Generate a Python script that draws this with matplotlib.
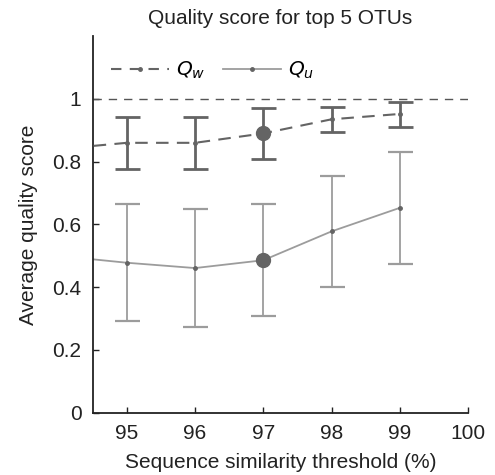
import numpy as np
import matplotlib.pyplot as plt
from matplotlib.lines import Line2D

plt.rcParams['font.family'] = ['Liberation Sans', 'DejaVu Sans']

# data
thresholds = [94, 95, 96, 97, 98, 99]
qw_mean = [0.84, 0.860, 0.860, 0.890, 0.935, 0.952]
qw_low = [np.nan, 0.778, 0.778, 0.808, 0.895, 0.911]
qw_high = [np.nan, 0.943, 0.943, 0.971, 0.975, 0.991]
qu_mean = [0.50, 0.478, 0.461, 0.486, 0.578, 0.653]
qu_low = [np.nan, 0.292, 0.273, 0.307, 0.400, 0.474]
qu_high = [np.nan, 0.665, 0.649, 0.665, 0.754, 0.830]
best = 97

dark = '#646464'
light = '#9c9c9c'
ink = '#222222'

x = np.array(thresholds)
qw_mean = np.array(qw_mean)
qu_mean = np.array(qu_mean)
qw_err = [qw_mean - np.array(qw_low), np.array(qw_high) - qw_mean]
qu_err = [qu_mean - np.array(qu_low), np.array(qu_high) - qu_mean]

fig = plt.figure(figsize=(4.95, 4.75), dpi=100)
ax = fig.add_axes([0.187, 0.131, 0.759, 0.793])

ax.axhline(1.0, color='#555555', lw=1.0, ls=(0, (6, 5)))

ax.errorbar(x, qu_mean, yerr=qu_err, color=light, lw=1.3, capsize=9,
            capthick=1.6, marker='o', ms=2.5, mfc=dark, mec=dark, zorder=2)
ax.errorbar(x, qw_mean, yerr=qw_err, color=dark, lw=1.5, ls=(3, (6, 4)),
            capsize=9, capthick=2, elinewidth=2, marker='o', ms=2.5,
            mfc=dark, mec=dark, zorder=3)

i = thresholds.index(best)
ax.plot([best, best], [qw_mean[i], qu_mean[i]], 'o', ms=10, color=dark,
        zorder=4)

ax.set_xlim(94.5, 100)
ax.set_ylim(0, 1.2)
ax.set_xticks([95, 96, 97, 98, 99, 100])
ax.set_yticks([0, 0.2, 0.4, 0.6, 0.8, 1])
ax.set_yticklabels(['0', '0.2', '0.4', '0.6', '0.8', '1'])
ax.tick_params(direction='in', length=4, width=1, labelsize=15, pad=8,
               colors=ink)
for s in ['top', 'right']:
    ax.spines[s].set_visible(False)
for s in ['left', 'bottom']:
    ax.spines[s].set_linewidth(1.3)
    ax.spines[s].set_color(ink)

ax.set_xlabel('Sequence similarity threshold (%)', fontsize=15, color=ink,
              labelpad=7)
ax.set_ylabel('Average quality score', fontsize=15, color=ink, labelpad=10)
ax.set_title('Quality score for top 5 OTUs', fontsize=15, color=ink, pad=9)

handles = [
    Line2D([], [], color=dark, lw=1.5, ls=(0, (5, 4)), marker='o', ms=2.5),
    Line2D([], [], color=light, lw=1.3, marker='o', ms=2.5, mfc=dark,
           mec=dark),
]
ax.legend(handles, ['$Q_w$', '$Q_u$'], loc='upper left', ncol=2,
          frameon=False, fontsize=14.5, handlelength=2.9, handletextpad=0.35,
          columnspacing=0.85, bbox_to_anchor=(0.0, 0.985))

fig.savefig('out.png', dpi=100)
